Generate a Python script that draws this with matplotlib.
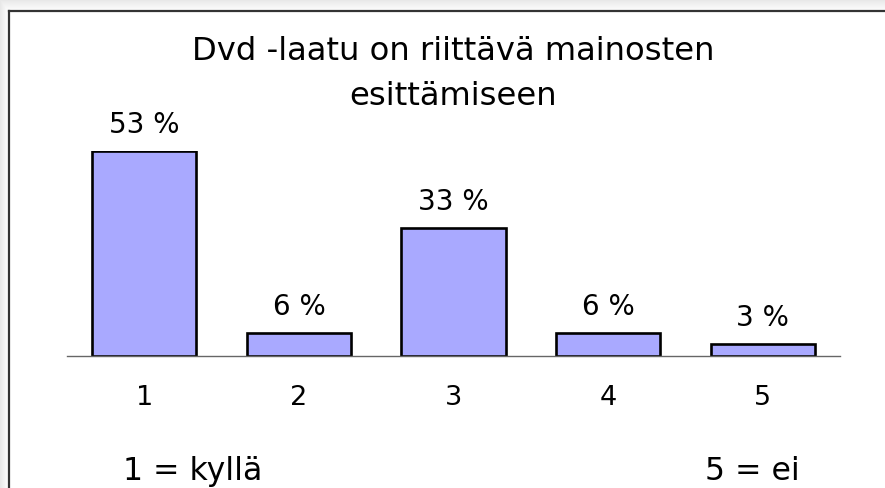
import matplotlib
matplotlib.use("Agg")
import matplotlib.pyplot as plt
from matplotlib.lines import Line2D
import numpy as np

categories = ["1", "2", "3", "4", "5"]
values = [53, 6, 33, 6, 3]
labels = ["53 %", "6 %", "33 %", "6 %", "3 %"]
title_lines = ["Dvd -laatu on riittävä mainosten", "esittämiseen"]
scale_low = "1 = kyllä"
scale_high = "5 = ei"

W, H = 885, 488
plt.rcParams["font.family"] = ["DejaVu Sans"]

fig = plt.figure(figsize=(W / 100, H / 100), dpi=100)

# soft shadow above and left of the frame
bg = fig.add_axes([0, 0, 1, 1], zorder=-10)
img = np.ones((H, W))
for i in range(10):
    img[i, :] = np.minimum(img[i, :], 0.91 + 0.008 * i)
for j in range(8):
    img[:, j] = np.minimum(img[:, j], 0.91 + 0.011 * j)
bg.imshow(img, cmap="gray", vmin=0, vmax=1, aspect="auto", interpolation="nearest")
bg.axis("off")

# chart frame: only top and left edges are inside the picture
fx, fy = 8.5 / W, 1 - 10.5 / H
fig.lines.append(Line2D([fx, 1.0], [fy, fy], transform=fig.transFigure,
                        color="#333333", linewidth=1.6))
fig.lines.append(Line2D([fx, fx], [fy, 0.0], transform=fig.transFigure,
                        color="#333333", linewidth=1.6))

ax = fig.add_axes([67 / W, 1 - 356 / H, (840 - 67) / W, (356 - 151) / H])
x = np.arange(1, len(categories) + 1)
ax.bar(x, values, width=0.673, color="#A9A9FF", edgecolor="black", linewidth=1.9)
ax.set_xlim(0.5, len(categories) + 0.5)
ax.set_ylim(0, max(values))
ax.set_xticks(x)
ax.set_xticklabels(categories, fontsize=19.5)
ax.tick_params(axis="x", length=0, pad=21)
ax.set_yticks([])
for s in ["top", "right", "left"]:
    ax.spines[s].set_visible(False)
ax.spines["bottom"].set_color("#666666")
ax.spines["bottom"].set_linewidth(1.0)
ax.patch.set_visible(False)

for xi, v, lab in zip(x, values, labels):
    ax.annotate(lab, (xi, v), xytext=(0, 13), textcoords="offset points",
                ha="center", va="baseline", fontsize=20)

fig.text(453 / W, 1 - 60 / H, title_lines[0], ha="center", va="baseline", fontsize=23.2)
fig.text(453 / W, 1 - 105 / H, title_lines[1], ha="center", va="baseline", fontsize=23.2)

fig.text(123 / W, 1 - 480 / H, scale_low, ha="left", va="baseline", fontsize=22.7)
fig.text(705 / W, 1 - 480 / H, scale_high, ha="left", va="baseline", fontsize=22.7)

fig.savefig("out.png", dpi=100)
